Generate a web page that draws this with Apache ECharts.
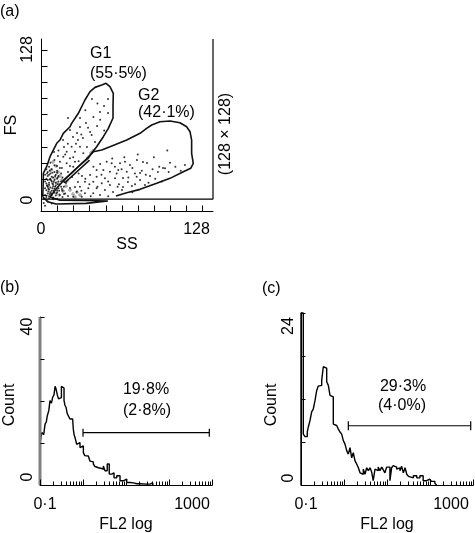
<!DOCTYPE html>
<html><head><meta charset="utf-8">
<script src="https://cdn.jsdelivr.net/npm/echarts@6/dist/echarts.min.js"></script>
<style>html,body{margin:0;padding:0;background:#fff}
#wrap{position:relative;width:475px;height:533px}
.layer{position:absolute;left:0;top:0;width:475px;height:533px}</style>
</head><body><div id="wrap"><div id="pa" class="layer"></div><div id="pb" class="layer"></div><div id="pc" class="layer"></div></div>
<script>
const FONT = '"Liberation Sans", Arial, Helvetica, sans-serif';

// ---------- Panel (a): FS vs SS dot plot ----------
const ssLabelValues = [0, 128];
const fsLabelValues = [0, 128];
const ssTicks = [0, 12, 24, 36, 48, 60, 72, 84, 96, 108, 120];
const fsTicks = [0, 12, 24, 36, 48, 60, 72, 84, 96, 108, 120];
const blackDots = [
  [37.9,83.3],[49.9,83.3],[49.9,72.9],[20.1,69.2],[29.0,69.2],[29.0,62.5],[41.7,63.2],[36.5,58.8],
  [23.8,55.1],[27.5,52.8],[31.2,54.3],[37.7,56.5],[21.6,60.3],[16.4,52.8],[22.8,47.8],[29.0,47.8],
  [34.2,47.6],[40.2,51.3],[19.1,44.1],[25.3,44.1],[31.5,42.9],[16.6,40.4],[21.6,39.2],[14.1,36.7],
  [19.1,35.5],[25.3,36.7],[11.9,33.5],[15.6,32.0],[21.6,33.5],[12.6,40.9],[9.7,43.9],[17.1,47.6],
  [26.8,58.0],[33.5,65.5],[43.9,73.7],[46.9,78.1],
  [10,38],[13,45],[18,42],[24,40],[20,50],[26,50],[30,57],[35,62],[39,70],[44,68],[47,60],[33,75],[42,80],[24,33],[28,37],
  [6,33],[8,31],[10,34],[12,30],[5,29],[14,32],[7,36],[4,31],
  [3,27],[5,26],[7,28],[9,25],[11,27],[13,26],[4,24],[8,25.5],[10,29],[15,28],[6,27],[12,28.5],
  [3,22],[4,20.5],[5,23],[6,21],[7,24],[8,22],[9,20],[10,23],[11,21],[12,24],[13,22],[14,20],[6,19.5],[7.5,22.8],[9.5,21.8],
  [3,17],[4,15.5],[5,18],[6,16],[7,17.5],[8,15],[9,18.5],[10,16.5],[11,19],[12,15.5],[13,17],[15,18],[16,15],[5.5,14.5],[8.5,17],
  [3,12],[4,10.5],[5,13],[6,11],[7,14],[8,12],[9,10],[10,13.5],[11,11.5],[12,14],[14,12],[16,10.5],[18,13],[6.5,12.5],
  [4.5,28],[6.5,30],[8.5,28.5],[10.5,26],[12.5,25],[4.5,19],[6.5,23.5],[8.5,20.5],[10.5,18],[12.5,20],
  [5.5,16.5],[7.5,13],[9.5,15],[11.5,13],[13.5,15],[15,22],[17,18],[16,25],
  [2,9],[4,8.5],[6,9.5],[9,8.8],[12,9.2],[2,6],[3,4],[5,7],[8,5.5],
  [48.9,36.7],[52.6,35.5],[58.8,35.5],[62.5,36.7],[66.2,34.2],[71.4,37.9],[75.9,36.5],[78.9,35.7],
  [90.8,32.0],[107.1,34.2],[41.4,30.5],[46.4,30.5],[51.3,29.2],[57.5,30.5],[63.8,29.2],[69.9,28.0],
  [73.7,28.3],[81.1,26.0],[87.0,29.0],[36.5,26.8],[41.4,25.5],[47.6,24.3],[55.1,24.3],[61.0,24.6],
  [73.7,23.1],[64.7,21.6],[32.7,21.8],[38.9,21.8],[45.2,20.6],[51.3,19.3],[77.4,19.3],[67.7,18.6],
  [61.0,17.9],[60.3,15.6],[29.0,18.1],[35.2,16.9],[41.4,16.9],[47.6,15.6],[53.6,14.1],[26.6,14.4],
  [32.7,13.2],[38.9,13.2],[24.0,10.6],[30.3,10.6],[43.9,11.9],[92.3,31.8],[71.2,25.5],[56.3,28.0],
  [20.1,29.0],[23.1,25.3],[18.6,20.8],[21.6,17.1],[17.1,12.6],[27.5,21.6],[25.3,17.9],[20.1,11.2],
  [15.6,16.4],[30.5,26.0],
  [44,35],[55,33],[60,31],[68,32],[75,30],[83,31],[95,29],[100,33],[85,24],[90,22],[80,21],[70,20],
  [58,20],[50,22],[42,18],[36,20],[30,15],[37,11],[50,11],[57,18],[65,25],[78,27],[88,33],[96,36],
  [104,30],[68,14],[45,27],[33,24],[28,28],[39,33],[53,39],[62,40],[72,42],[84,40],[94,45]
];
const grayDots = [
  [8.9,36.5],[11.2,33.5],[12.6,29.0],[10.4,24.6],[14.1,26.0],[11.9,20.8],[18.6,18.6],[21.6,15.6],
  [23.8,12.6],[26.8,14.1],[16.4,14.9],[25.3,10.4],[29.0,11.9],[7.4,30.5],[5.2,18.6],[15.6,23.1],
  [35.0,39.8],[37.2,43.2],[38.7,44.6],[19.5,22.5],[13.5,12.0]
];
const gateG1 = [
  [1.3,10.6],[1.7,23.1],[1.7,28.0],[4.2,33.0],[6.7,40.4],[11.7,50.4],[14.1,52.8],[16.6,57.8],
  [21.6,62.7],[22.8,65.2],[27.8,72.7],[32.7,82.6],[36.5,88.8],[40.2,92.0],[45.2,93.7],[48.4,95.0],
  [51.3,92.5],[53.8,87.6],[53.6,77.6],[53.6,69.2],[50.1,61.5],[46.4,55.3],[41.4,47.8],[37.7,42.9],
  [35.0,39.4],[29.0,34.2],[23.1,28.6],[17.1,23.1],[11.2,16.4],[6.7,10.4],
  [14.1,8.0],[32.7,7.8],[49.8,7.4],[33.5,5.7],[11.2,5.2],[5.0,6.9],[1.3,10.6]
];
const gateG2 = [
  [55.8,11.2],[63.8,13.6],[73.7,16.1],[86.1,20.6],[96.0,24.3],[105.9,29.2],[111.4,31.8],[113.3,35.5],
  [112.1,42.9],[112.1,52.8],[110.9,59.0],[108.4,62.7],[103.4,65.7],[96.0,67.0],[88.5,66.4],[82.4,64.0],
  [78.6,61.5],[73.7,57.8],[63.8,52.8],[51.3,47.8],[45.2,45.4],[38.9,44.1],[35.2,40.0],[16.4,22.3],
  [17.9,21.2],[36.1,37.9]
];
const plotFrame = [[0,8.9],[128,8.9],[128,128]];

// ---------- Panels (b) and (c): FL2 log histograms ----------
const logMajorTicks = [0.1, 1, 10, 100, 1000];
const logMinorTicks = [0.2,0.3,0.4,0.5,0.6,0.7,0.8,0.9, 2,3,4,5,6,7,8,9, 20,30,40,50,60,70,80,90, 200,300,400,500,600,700,800,900];
const countTicksB = [0, 10, 20, 30, 40];
const countTicksC = [0, 6, 12, 18, 24];

const binsB = [0.1,0.1,0.110,0.122,0.131,0.140,0.148,0.160,0.171,0.185,0.197,0.212,0.224,0.236,0.252,0.270,0.292,
  0.315,0.337,0.362,0.380,0.403,0.430,0.455,0.498,0.575,0.595,0.620,0.652,0.713,0.777,0.851,0.932,1.02,1.10,
  1.18,1.33,1.45,1.60,1.74,1.90,2.08,2.30,2.49,2.97,3.25,3.66,4.08,4.65,5.26,6.09,7.26,8.67,10.4,12.4,14.8,
  18,21,30,36,42];
const countsB = [0,9.9,12.5,12.0,14.5,15.0,16.5,17.7,20.1,19.5,20.9,21.5,23.5,22.9,21.5,20.5,20.8,
  23.5,23.1,20.1,19.0,18.5,17.0,16.5,15.7,15.3,13.3,12.0,11.3,9.7,10.1,8.9,9.3,7.7,7.0,
  6.9,7.3,5.7,5.5,5.0,4.4,4.1,3.9,3.8,4.5,3.4,5.0,2.6,2.9,1.7,2.2,1.0,1.4,0.6,0.5,0.3,
  0.3,0.2,0.2,0.5,0];
const firstBinB = [[0.1,0],[0.1,40]];
const gateB = {from: 1, to: 865, level: 12.45, cap: 0.95};

const binsC = [0.1,0.1,0.113,0.124,0.140,0.148,0.162,0.177,0.193,0.212,0.232,0.2525,0.2765,0.303,0.330,0.362,
  0.396,0.432,0.473,0.518,0.564,0.618,0.677,0.737,0.807,0.884,0.964,1.055,1.156,1.26,1.38,1.51,1.645,1.80,
  1.98,2.16,2.36,2.58,2.81,3.08,3.37,3.68,4.03,4.4,4.78,5.25,5.7,6.24,6.84,7.54,8.2,8.93,9.8,10.7,11.7,
  12.8,14.0,15.4,16.8,18.3,20.0,21.9,24.0,26.3,28.8,31.5,34.4,41.0,49.2,58.3,69.3,82.7,99,108,130,143];
const countsC = [0,24,7.1,6.75,7.4,8.1,9.0,10.2,10.6,11.8,13.2,13.8,13.9,14.6,16.5,16.3,
  14.4,13.9,12.5,12.3,8.5,8.3,8.1,7.8,7.4,7.1,6.2,5.7,4.8,4.3,5.2,3.8,4.5,3.4,
  2.9,2.4,1.7,1.5,2.2,1.5,2.4,2.0,2.4,1.8,0.6,2.2,2.0,2.5,2.0,2.5,2.1,1.7,2.5,2.5,0.6,
  2.4,2.7,2.5,2.2,2.4,2.0,2.6,1.7,2.4,1.5,1.2,1.0,1.3,1.0,1.3,0.6,0.8,0.6,0.5,0.2,0];
const gateC = {from: 1.26, to: 885, level: 8.27, cap: 0.63};

// ---------- helpers ----------
const zip = (xs, ys) => xs.map((x, i) => [x, ys[i]]);
const tok = (pad) => ({padding: pad, fontSize: 16, lineHeight: 16, fontFamily: FONT, color: '#000'});
const axLine = () => ({show: true, onZero: false, lineStyle: {color: '#000', width: 1}});
const nameStyle = (pad) => ({fontSize: 16, fontFamily: FONT, color: '#000', lineHeight: 16, padding: pad || 0});
const lineBase = () => ({type: 'line', symbol: 'none', showSymbol: false, clip: false, silent: true});

// tick marks: a custom series placing short strokes at values through the axis scales
function tickSeries(values, horizontalAxis, base, len) {
  return {type: 'custom', silent: true, clip: false, z: 6,
    data: values.map(v => horizontalAxis ? [v, base] : [base, v]),
    renderItem: (params, api) => {
      const c = api.coord([api.value(0), api.value(1)]);
      const x = Math.round(c[0]) + 0.5, y = Math.round(c[1]) + 0.5;
      const shape = horizontalAxis ? {x1: x, y1: y, x2: x, y2: y - len} : {x1: x, y1: y, x2: x + len, y2: y};
      return {type: 'line', shape: shape, style: {stroke: '#000', lineWidth: 1}};
    }};
}
function gateLines(g) {
  const mk = (d) => Object.assign(lineBase(), {data: d, lineStyle: {color: '#000', width: 1.2}});
  return [mk([[g.from, g.level], [g.to, g.level]]),
          mk([[g.from, g.level - g.cap], [g.from, g.level + g.cap]]),
          mk([[g.to, g.level - g.cap], [g.to, g.level + g.cap]])];
}
function txt(x, y, s, align, rot) {
  return {type: 'text', x: x, y: y, rotation: rot || 0, silent: true,
    style: {text: s, fill: '#000', font: '16px ' + FONT, align: align || 'left', verticalAlign: 'middle',
      textAlign: align || 'left', textVerticalAlign: 'middle'}};
}
function histOption(grid, max, interval, bins, counts, yTicks, extra, gate, yPad, hiShift, namePad, nameGap, texts) {
  return {
    animation: false, backgroundColor: 'transparent', textStyle: {fontFamily: FONT},
    grid: [Object.assign({outerBoundsMode: 'none', containLabel: false}, grid)],
    xAxis: [{type: 'log', logBase: 10, min: 0.1, max: 1000, position: 'bottom',
      axisLine: axLine(), splitLine: {show: false}, axisTick: {show: false},
      axisLabel: {show: true, margin: 12, showMinLabel: true, showMaxLabel: true,
        formatter: v => {
          const e = Math.round(Math.log10(v));
          return e === -1 ? '{lo|0·1}' : (e === 3 ? '{hi|1000}' : '');
        },
        rich: {lo: tok([0, 0, 0, 10]), hi: tok([0, hiShift, 0, 0])}},
      name: 'FL2 log', nameLocation: 'middle', nameGap: 32, nameMoveOverlap: false, nameTextStyle: nameStyle()}],
    yAxis: [{type: 'value', min: 0, max: max, interval: interval, position: 'left',
      axisLine: axLine(), splitLine: {show: false}, axisTick: {show: false},
      axisLabel: {show: true, rotate: 90, margin: 4, showMinLabel: true, showMaxLabel: true,
        formatter: v => v === 0 ? '{lo|0}' : (v === max ? '{hi|' + max + '}' : ''),
        rich: {lo: tok([0, 0, 0, yPad[0]]), hi: tok([0, yPad[1], 0, 0])}},
      name: 'Count', nameLocation: 'middle', nameGap: nameGap, nameMoveOverlap: false,
      nameTextStyle: nameStyle(namePad)}],
    series: [
      Object.assign(lineBase(), {data: zip(bins, counts), step: 'end', lineStyle: {color: '#000', width: 1.4}})
    ].concat(extra, [
      tickSeries(logMajorTicks, true, 0, 6),
      tickSeries(logMinorTicks, true, 0, 4),
      tickSeries(yTicks, false, 0.1, 4)
    ], gateLines(gate)),
    graphic: texts
  };
}

// ---- panel (a)
const chartA = echarts.init(document.getElementById('pa'));
chartA.setOption({
  animation: false, backgroundColor: '#fff', textStyle: {fontFamily: FONT},
  grid: [{left: 41, top: 39, width: 172, height: 172, outerBoundsMode: 'none', containLabel: false}],
  xAxis: [
    {type: 'value', min: 0, max: 128, interval: 12, position: 'bottom',
      axisLine: axLine(), splitLine: {show: false}, axisTick: {show: false},
      axisLabel: {show: true, margin: 11, customValues: ssLabelValues,
        formatter: v => v === 0 ? '{lo|0}' : '{hi|128}',
        rich: {lo: tok([0, 0, 0, 0]), hi: tok([0, 33, 0, 0])}},
      name: 'SS', nameLocation: 'middle', nameGap: 26, nameMoveOverlap: false, nameTextStyle: nameStyle()}
  ],
  yAxis: [
    {type: 'value', min: 0, max: 128, interval: 12, position: 'left',
      axisLine: axLine(), splitLine: {show: false}, axisTick: {show: false},
      axisLabel: {show: true, rotate: 90, margin: 5, customValues: fsLabelValues,
        formatter: v => v === 0 ? '{lo|0}' : '{hi|128}',
        rich: {lo: tok([0, 0, 0, 22]), hi: tok([0, 21, 0, 0])}},
      name: 'FS', nameLocation: 'middle', nameGap: 21, nameMoveOverlap: false, nameTextStyle: nameStyle()}
  ],
  series: [
    {type: 'scatter', data: grayDots, silent: true,
      symbol: 'path://M1,0H2V1H3V2H2V3H1V2H0V1H1Z', symbolSize: 4, itemStyle: {color: '#8c8c8c'}},
    {type: 'scatter', data: blackDots, silent: true, symbol: 'circle', symbolSize: 2, itemStyle: {color: '#000'}},
    Object.assign(lineBase(), {data: plotFrame, lineStyle: {color: '#000', width: 1.2}}),
    Object.assign(lineBase(), {data: gateG1, lineStyle: {color: '#111', width: 1.6}}),
    Object.assign(lineBase(), {data: gateG2, lineStyle: {color: '#111', width: 1.6}}),
    tickSeries(ssTicks, true, 0, 6),
    tickSeries(fsTicks, false, 0, 6)
  ],
  graphic: [
    txt(0, 12, '(a)'),
    txt(90, 54, 'G1'), txt(90, 74, '(55·5%)'), txt(138, 96, 'G2'), txt(138, 113, '(42·1%)'),
    txt(226, 134, '(128 × 128)', 'center', Math.PI / 2)
  ]
});

// ---- panel (b)
const chartB = echarts.init(document.getElementById('pb'));
chartB.setOption(histOption({left: 40, top: 317, width: 172, height: 168}, 40, 10, binsB, countsB, countTicksB,
  [Object.assign(lineBase(), {data: firstBinB, lineStyle: {color: '#808080', width: 3}})],
  gateB, [16, 19], 40, [0, 8, 0, 0], 22,
  [txt(0, 288, '(b)'), txt(146, 390, '19·8%', 'center'), txt(147, 411, '(2·8%)', 'center')]));

// ---- panel (c)
const chartC = echarts.init(document.getElementById('pc'));
chartC.setOption(histOption({left: 301, top: 313, width: 172, height: 172}, 24, 6, binsC, countsC, countTicksC,
  [], gateC, [14, 26], 44, [0, 12, 0, 0], 21,
  [txt(262, 289, '(c)'), txt(403, 387, '29·3%', 'center'), txt(402, 406, '(4·0%)', 'center')]));
</script></body></html>
